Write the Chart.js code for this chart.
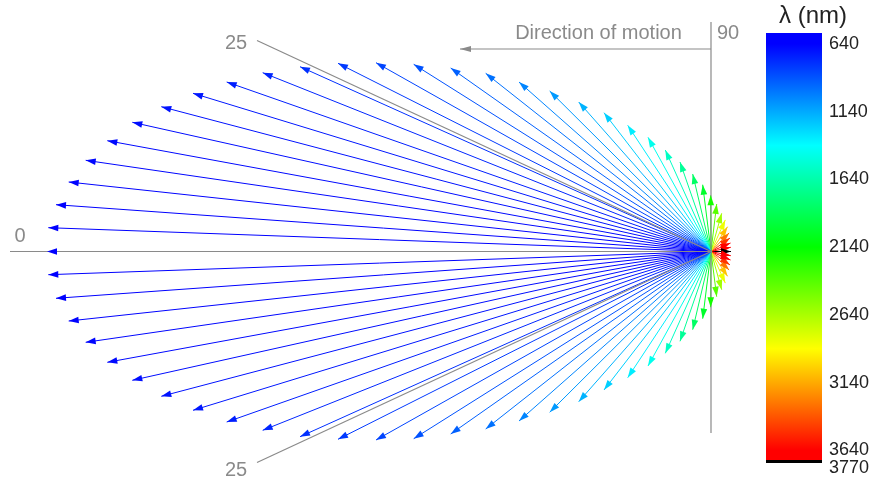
<!DOCTYPE html>
<html>
<head>
<meta charset="utf-8">
<script src="https://cdn.jsdelivr.net/npm/chart.js@4"></script>
<style>
  html, body { margin: 0; padding: 0; background: #fff; }
  #wrap { position: relative; width: 881px; height: 489px; }
  #main { position: absolute; left: 0; top: 0; }
  #bar { position: absolute; left: 750px; top: 0; }
</style>
</head>
<body>
<div id="wrap">
  <canvas id="main" width="881" height="489"></canvas>
  <canvas id="bar" width="131" height="489"></canvas>
</div>
<script>
// arrow tips, origin at the emitter; upper half 0..180 deg, then lower half 5..175 deg
const tipX = [
  -664, -662.7, -655, -642.3, -625.3, -603.7, -578.7, -549.7, -518, -484.3, -448.3, -411, -373,
  -335, -297.3, -260.3, -225.3, -192, -161.3, -132.3, -107, -83.3, -63, -45.7, -31, -18.3,
  -8.3, -0.3, 5.7, 10.7, 14.3, 16.6, 18.1, 19, 19.5, 19.8, 20,
  -662.7, -655, -642.3, -625.3, -603.7, -578.7, -549.7, -518, -484.3, -448.3, -411, -373,
  -335, -297.3, -260.3, -225.3, -192, -161.3, -132.3, -107, -83.3, -63, -45.7, -31, -18.3,
  -8.3, -0.3, 5.7, 10.7, 14.3, 16.6, 18.1, 19, 19.5, 19.8
];
const tipY = [
  0, 23.8, 46.8, 69.5, 91.2, 110.8, 129.2, 144.8, 158.2, 169.5, 178.8, 184.8, 188.2,
  188.8, 187.2, 183.5, 178.2, 169.5, 160.5, 149.5, 138.8, 126.2, 114.2, 101.5, 89.5, 77.5,
  66.8, 56.2, 47.5, 38.2, 31.6, 24.8, 18.6, 13.4, 8.5, 4.2, 0,
  -23.2, -46.8, -69.5, -90.8, -110.8, -128.8, -144.8, -158.8, -170.5, -178.8, -185.2, -187.8,
  -188.5, -187.2, -182.5, -177.5, -169.5, -160.8, -150.2, -138.5, -126.2, -114.5, -101.8, -89.8, -78.2,
  -67.2, -55.8, -45.2, -38.2, -31.6, -24.8, -18.6, -13.4, -8.5, -4.2
];
// wavelength of each arrow (nm)
const lambda = [
  640, 641, 644, 649, 656, 666, 677, 692, 708, 728, 751, 777, 807,
  841, 880, 924, 974, 1030, 1094, 1166, 1248, 1340, 1444, 1563, 1696, 1845,
  2012, 2196, 2398, 2614, 2840, 3067, 3286, 3481, 3636, 3737, 3771,
  641, 644, 649, 656, 666, 677, 692, 708, 728, 751, 777, 807,
  841, 880, 924, 974, 1030, 1094, 1166, 1248, 1340, 1444, 1563, 1696, 1845,
  2012, 2196, 2398, 2614, 2840, 3067, 3286, 3481, 3636, 3737
];
// colour bar ticks
const barTicks = [640, 1140, 1640, 2140, 2640, 3140, 3640, 3770];
const guideLabels = ['0', '25', '25', '90', 'Direction of motion'];

const FONT = "'Liberation Sans', Arial, sans-serif";
const GREY = '#8a8a8a';

function hueOf(l) {
  const h = 240 * (3640 - l) / 3000;
  return Math.max(0, Math.min(240, h));
}
function colourOf(l) {
  if (l > 3750) return '#000';
  return 'hsl(' + hueOf(l).toFixed(1) + ',100%,50%)';
}

const seg = (x1, y1, x2, y2) => [{x: x1, y: y1}, {x: x2, y: y2}];

const datasets = [];
// guide lines
[
  seg(0, 0, -701, 0),
  seg(0, 229.5, 0, -181.5),
  seg(0, 0, -454, 211),
  seg(0, 0, -454, -211)
].forEach(d => datasets.push({data: d, showLine: true, borderColor: GREY, borderWidth: 1.2}));
// direction of motion arrow
datasets.push({data: seg(0, 202.5, -251, 202.5), showLine: true, borderColor: GREY, borderWidth: 1.2,
  head: [11, 3]});
// the emitted rays
tipX.forEach((x, i) => {
  datasets.push({data: seg(0, 0, x, tipY[i]), showLine: true, borderColor: colourOf(lambda[i]),
    borderWidth: 1, head: [10, 3.3]});
});

const arrowHeads = {
  id: 'arrowHeads',
  afterDatasetsDraw(chart) {
    const ctx = chart.ctx;
    chart.data.datasets.forEach((ds, i) => {
      if (!ds.head) return;
      const pts = chart.getDatasetMeta(i).data;
      const a = pts[0], b = pts[1];
      const ang = Math.atan2(b.y - a.y, b.x - a.x);
      ctx.save();
      ctx.translate(b.x, b.y);
      ctx.rotate(ang);
      ctx.fillStyle = ds.borderColor;
      ctx.beginPath();
      ctx.moveTo(0, 0);
      ctx.lineTo(-ds.head[0], ds.head[1]);
      ctx.lineTo(-ds.head[0], -ds.head[1]);
      ctx.closePath();
      ctx.fill();
      ctx.restore();
    });
  }
};

// where the guide labels sit (data units)
const labelPos = [[-691, 15.5], [-475, 208.5], [-475, -218.5], [17, 218.5], [-112.5, 218.5]];
const guideText = {
  id: 'guideText',
  afterDraw(chart) {
    const ctx = chart.ctx, sx = chart.scales.x, sy = chart.scales.y;
    ctx.save();
    ctx.fillStyle = GREY;
    ctx.font = '20px ' + FONT;
    ctx.textAlign = 'center';
    ctx.textBaseline = 'middle';
    guideLabels.forEach((t, i) => {
      ctx.fillText(t, sx.getPixelForValue(labelPos[i][0]), sy.getPixelForValue(labelPos[i][1]));
    });
    ctx.restore();
  }
};

new Chart(document.getElementById('main'), {
  type: 'scatter',
  data: {datasets},
  options: {
    responsive: false,
    animation: false,
    events: [],
    layout: {padding: 0},
    elements: {point: {radius: 0, hitRadius: 0}, line: {tension: 0}},
    plugins: {legend: {display: false}, tooltip: {enabled: false}},
    scales: {
      x: {type: 'linear', display: false, min: -711, max: 170},
      y: {type: 'linear', display: false, min: -237.5, max: 251.5}
    }
  },
  plugins: [arrowHeads, guideText]
});

// colour bar
function barGradient(c) {
  const chart = c.chart;
  const ys = chart.scales.y;
  if (!chart.chartArea || !ys) return 'blue';
  const y0 = ys.getPixelForValue(640), y1 = ys.getPixelForValue(3640);
  const g = chart.ctx.createLinearGradient(0, y0, 0, y1);
  for (let k = 0; k <= 24; k++) {
    const t = k / 24;
    g.addColorStop(t, 'hsl(' + (240 * (1 - t)).toFixed(1) + ',100%,50%)');
  }
  return g;
}

const barTitle = {
  id: 'barTitle',
  afterDraw(chart) {
    const ctx = chart.ctx;
    ctx.save();
    ctx.fillStyle = '#222';
    ctx.font = '24px ' + FONT;
    ctx.textAlign = 'center';
    ctx.textBaseline = 'middle';
    ctx.fillText('λ (nm)', 63, 16);
    ctx.restore();
  }
};

new Chart(document.getElementById('bar'), {
  type: 'bar',
  data: {
    labels: [''],
    datasets: [
      {data: [[559, 3709]], backgroundColor: barGradient, grouped: false,
        barPercentage: 1, categoryPercentage: 1, borderWidth: 0},
      {data: [[3709, 3731]], backgroundColor: '#000', grouped: false,
        barPercentage: 1, categoryPercentage: 1, borderWidth: 0}
    ]
  },
  options: {
    responsive: false,
    animation: false,
    events: [],
    layout: {padding: {left: 16, top: 33, bottom: 21}},
    plugins: {legend: {display: false}, tooltip: {enabled: false}},
    scales: {
      x: {display: false},
      y: {
        position: 'right',
        reverse: true,
        min: 559,
        max: 3770,
        grid: {display: false, drawTicks: false},
        border: {display: false},
        afterBuildTicks: s => { s.ticks = barTicks.map(v => ({value: v})); },
        afterFit: s => { s.width = 59; },
        ticks: {padding: 7, color: '#222', font: {size: 18, family: FONT}, callback: v => String(v)}
      }
    }
  },
  plugins: [barTitle]
});
</script>
</body>
</html>
